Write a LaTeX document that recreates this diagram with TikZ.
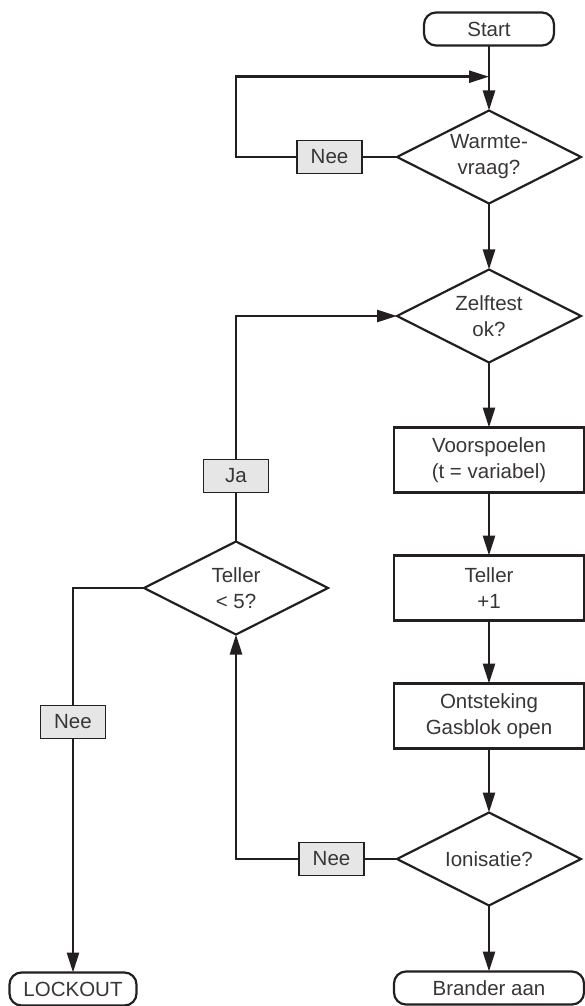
\documentclass[tikz,border=0pt]{standalone}
\usepackage{fontspec}
\setmainfont{Liberation Sans}
\usetikzlibrary{positioning, arrows.meta, shapes.geometric, calc}
\definecolor{ink}{HTML}{231F20}
\definecolor{labelfill}{HTML}{E6E6E6}
\tikzset{
  base/.style={draw=ink, line width=2.2pt, align=center, text=ink!90, font=\fontsize{20.5}{26}\selectfont, inner sep=0pt, outer sep=0pt},
  term/.style={base, rounded corners=12pt, minimum height=33pt},
  proc/.style={base, minimum width=190pt, minimum height=65pt},
  decision/.style={base, diamond, aspect=2, minimum width=184pt, minimum height=93pt},
  lbl/.style={base, line width=1.2pt, fill=labelfill, minimum width=65pt, minimum height=33pt},
  conn/.style={line width=2.6pt, draw=ink},
  arr/.style={conn, -{Triangle[length=20pt, width=12pt]}}
}
\begin{document}
\begin{tikzpicture}[x=1pt, y=-1pt]
\useasboundingbox (0,0) rectangle (584,1006);
% hoofdlijn
\node[term, minimum width=130pt] (start) at (489,29) {Start};
\node[decision, below=65pt of start] (warmte) {Warmte-\\vraag?};
\node[decision, below=66pt of warmte] (zelftest) {Zelftest\\ok?};
\node[proc, below=65pt of zelftest] (voorspoelen) {Voorspoelen\\(t = variabel)};
\node[proc, below=63pt of voorspoelen] (teller) {Teller\\+1};
\node[proc, below=63pt of teller] (ontsteking) {Ontsteking\\Gasblok open};
\node[decision, below=64pt of ontsteking] (ionisatie) {Ionisatie?};
\node[term, minimum width=190pt, below=66pt of ionisatie] (brander) {Brander aan};
% zijtak
\node[decision, left=66pt of teller] (tellercheck) {Teller\\< 5?};
\node[lbl, left=35pt of warmte] (neewarmte) {Nee};
\node[lbl, left=33pt of ionisatie] (neeionisatie) {Nee};
\node[lbl, above=49pt of tellercheck] (ja) {Ja};
\node[term, minimum width=127pt] (lockout) at (73,989) {LOCKOUT};
\node[lbl] (neeteller) at (73,722) {Nee};
\coordinate (terug) at ($(start.south)!.48!(warmte.north)$);
% verbindingen
\draw[arr] (start) -- (warmte);
\draw[arr] (warmte) -- (zelftest);
\draw[arr] (zelftest) -- (voorspoelen);
\draw[arr] (voorspoelen) -- (teller);
\draw[arr] (teller) -- (ontsteking);
\draw[arr] (ontsteking) -- (ionisatie);
\draw[arr] (ionisatie) -- (brander);
\draw[conn] (warmte.west) -- (neewarmte.east);
\draw[arr] (neewarmte.west) -| (ja.center |- terug) -- (terug);
\draw[conn] (tellercheck.north) -- (ja.south);
\draw[arr] (ja.north) |- (zelftest.west);
\draw[conn] (ionisatie.west) -- (neeionisatie.east);
\draw[arr] (neeionisatie.west) -| (tellercheck.south);
\draw[conn] (tellercheck.west) -| (neeteller.north);
\draw[arr] (neeteller.south) -- (lockout.north);
\end{tikzpicture}
\end{document}
